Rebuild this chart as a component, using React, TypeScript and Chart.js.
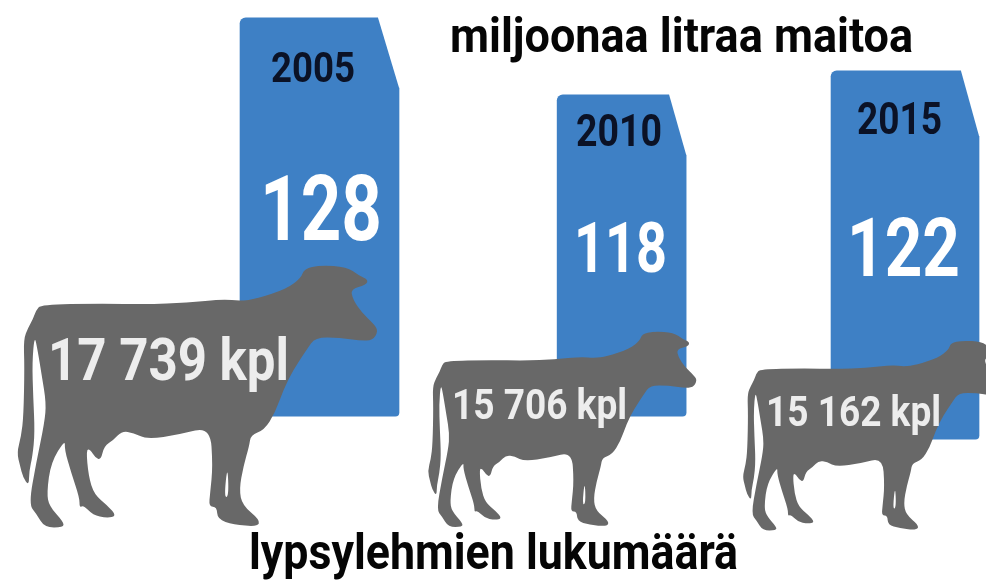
import React, { useEffect, useRef } from "react";
import { Chart, registerables } from "chart.js";

Chart.register(...registerables);

// ---- data ----
const years = [2005, 2010, 2015];
const litres = [128, 118, 122];
const cows = [17739, 15706, 15162];
// plotted extents (the infographic is not drawn to a common baseline)
const barPositions = [2005, 2010.16, 2015];
const barStarts = [76.3, 76.3, 73.3];
const barEnds = [128, 118, 121.1];
const titleTop = "miljoonaa litraa maitoa";
const titleBottom = "lypsylehmien lukumäärä";

// ---- style and layout ----
const BLUE = "#3E80C5";
const GREY = "#686868";
const barThickness = [159, 129, 148];
const cuts = [
  { w: 21, h: 70 },
  { w: 17, h: 60 },
  { w: 18, h: 65 },
];
const FONT = "Roboto";

// text boxes: left, baseline, font size, target width
const yearBoxes = [
  { x: 271, y: 82, size: 42, w: 84 },
  { x: 576, y: 146, size: 44, w: 86 },
  { x: 857, y: 134, size: 44, w: 85 },
];
const litreBoxes = [
  { x: 260, y: 240, size: 90, w: 122 },
  { x: 574, y: 272, size: 70, w: 93 },
  { x: 847, y: 276, size: 82, w: 113 },
];
const cowBoxes = [
  { x: 48, y: 380, size: 59, w: 241 },
  { x: 452, y: 419, size: 42, w: 175 },
  { x: 766, y: 426, size: 42, w: 175 },
];
const titleBoxes = [
  { text: titleTop, x: 450, y: 52, size: 48, w: 463 },
  { text: titleBottom, x: 249, y: 569, size: 50, w: 489 },
];

// Cow silhouette traced in its own units
const cowOrigin = { x: 52, y: 50 };
const cowOutline: number[][] = [
  [108, 182], [122, 166], [300, 162], [440, 165], [560, 160], [670, 149], [720, 155], [770, 148],
  [860, 118], [903, 85], [912, 58], [960, 47], [1040, 52], [1075, 78], [1104, 90], [1098, 107],
  [1052, 118], [1058, 150], [1085, 190], [1122, 225], [1134, 245], [1118, 273], [1080, 274],
  [1020, 265], [945, 264], [920, 300], [880, 360], [850, 420], [825, 490], [792, 542], [752, 556],
  [747, 590], [730, 650], [717, 720], [727, 768], [780, 812], [772, 832], [700, 825], [652, 810],
  [650, 772], [626, 772], [630, 730], [638, 650], [630, 532], [540, 555], [440, 570], [400, 550],
  [365, 545], [340, 572], [312, 590], [302, 632], [285, 624], [270, 600], [258, 600], [265, 680],
  [282, 735], [322, 768], [350, 800], [320, 806], [278, 797], [250, 767], [238, 775], [238, 745],
  [213, 670], [193, 600], [195, 570], [152, 640], [140, 730], [147, 770], [190, 818], [190, 834],
  [133, 834], [108, 792], [86, 765], [108, 640], [133, 520], [138, 460], [125, 380], [112, 300],
  [103, 258], [96, 340], [99, 440], [104, 550], [97, 620], [87, 665], [86, 710], [68, 682],
  [60, 650], [50, 610], [63, 560], [70, 500], [73, 350], [70, 270], [84, 235], [98, 210],
];
const cowSlit: number[][] = [[682, 645], [686, 740], [672, 745]];
// placement relative to each bar: left offset from bar left, top offset from bar base, scale
const cowPlacement = [
  { dx: -222.5, dy: -150, s: 0.3333 },
  { dx: -129, dy: -84, s: 0.2486 },
  { dx: -88, dy: -98, s: 0.2415 },
];

function tracePoly(ctx: CanvasRenderingContext2D, pts: number[][], ox: number, oy: number, s: number) {
  const mapped = pts.map((p) => [ox + (p[0] - cowOrigin.x) * s, oy + (p[1] - cowOrigin.y) * s]);
  const n = mapped.length;
  const mid = (a: number[], b: number[]) => [(a[0] + b[0]) / 2, (a[1] + b[1]) / 2];
  const start = mid(mapped[n - 1], mapped[0]);
  ctx.moveTo(start[0], start[1]);
  for (let i = 0; i < n; i++) {
    const m = mid(mapped[i], mapped[(i + 1) % n]);
    ctx.quadraticCurveTo(mapped[i][0], mapped[i][1], m[0], m[1]);
  }
  ctx.closePath();
}

function fitText(
  ctx: CanvasRenderingContext2D,
  text: string,
  box: { x: number; y: number; size: number; w: number },
  color: string
) {
  ctx.save();
  ctx.font = `700 ${box.size}px ${FONT}`;
  ctx.fillStyle = color;
  ctx.textBaseline = "alphabetic";
  ctx.textAlign = "left";
  const natural = ctx.measureText(text).width;
  ctx.translate(box.x, box.y);
  ctx.scale(box.w / natural, 1);
  ctx.fillText(text, 0, 0);
  ctx.restore();
}

const fmt = (n: number) => `${Math.floor(n / 1000)} ${String(n % 1000).padStart(3, "0")} kpl`;

const infographic = {
  id: "infographic",
  afterDatasetsDraw(chart: any) {
    const ctx: CanvasRenderingContext2D = chart.ctx;
    const bars = chart.data.datasets.map((_: any, i: number) => chart.getDatasetMeta(i).data[0]);
    ctx.save();
    // clipped top-right corner of each carton
    bars.forEach((b: any, i: number) => {
      const right = b.x + b.width / 2;
      const c = cuts[i];
      ctx.beginPath();
      ctx.moveTo(right - c.w, b.y - 1);
      ctx.lineTo(right + 2, b.y - 1);
      ctx.lineTo(right + 2, b.y + c.h);
      ctx.lineTo(right, b.y + c.h);
      ctx.lineTo(right - c.w, b.y);
      ctx.closePath();
      ctx.fillStyle = "#ffffff";
      ctx.fill();
    });
    // cows
    bars.forEach((b: any, i: number) => {
      const p = cowPlacement[i];
      const left = b.x - b.width / 2 + p.dx;
      const top = b.base + p.dy;
      ctx.beginPath();
      tracePoly(ctx, cowOutline, left, top, p.s);
      tracePoly(ctx, cowSlit, left, top, p.s);
      ctx.fillStyle = GREY;
      ctx.fill("evenodd");
    });
    // texts
    years.forEach((y, i) => fitText(ctx, String(y), yearBoxes[i], "#0B1226"));
    litres.forEach((v, i) => fitText(ctx, String(v), litreBoxes[i], "#ffffff"));
    cows.forEach((v, i) => fitText(ctx, fmt(v), cowBoxes[i], "#EDEDED"));
    titleBoxes.forEach((t) => fitText(ctx, t.text, t, "#050505"));
    ctx.restore();
  },
};

export default function App() {
  const ref = useRef<HTMLCanvasElement | null>(null);
  useEffect(() => {
    document.body.style.margin = "0";
    document.body.style.background = "#ffffff";
    const chart = new Chart(ref.current as HTMLCanvasElement, {
      type: "bar",
      data: {
        datasets: years.map((year, i) => ({
          label: String(year),
          data: [{ x: barPositions[i], y: [barStarts[i], barEnds[i]] }],
          backgroundColor: BLUE,
          barThickness: barThickness[i],
          borderSkipped: false,
          borderRadius: { topLeft: 6, topRight: 0, bottomLeft: 3, bottomRight: 4 },
          grouped: false,
        })) as any,
      },
      options: {
        animation: false,
        responsive: false,
        layout: { padding: 0 },
        plugins: { legend: { display: false }, tooltip: { enabled: false } },
        scales: {
          x: { type: "linear", display: false, offset: false, min: 1999.543, max: 2016.383 },
          y: { display: false, min: 54.9, max: 130.3 },
        },
      },
      plugins: [infographic],
    } as any);
    return () => chart.destroy();
  }, []);
  return <canvas ref={ref} width={986} height={581} style={{ display: "block" }} />;
}
